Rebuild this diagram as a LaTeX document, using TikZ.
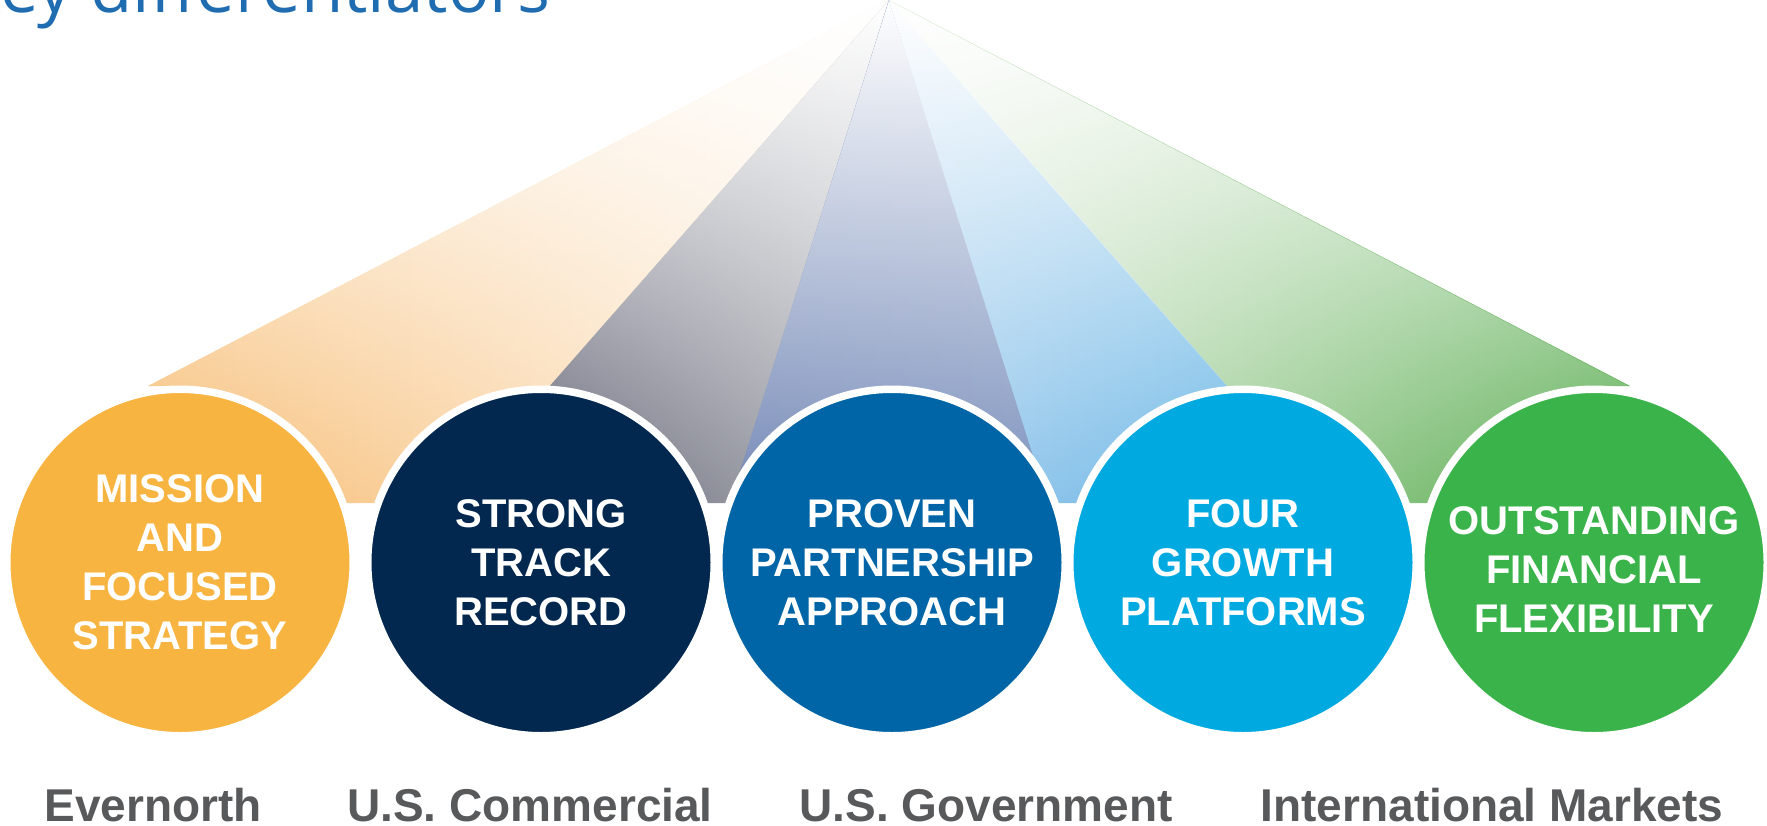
\documentclass[tikz,border=0pt]{standalone}
\usepackage{fontspec}
\setmainfont{Liberation Sans}
\newfontfamily\titlefont{Open Sans}
\usetikzlibrary{fadings}

% disc colours
\definecolor{discOrange}{HTML}{F8B440}
\definecolor{discNavy}{HTML}{02284F}
\definecolor{discBlue}{HTML}{0065A6}
\definecolor{discSky}{HTML}{00A9E0}
\definecolor{discGreen}{HTML}{3AB44A}
% beam colours (left / right ends of each beam)
\definecolor{beamOrangeL}{HTML}{F7BC72}
\definecolor{beamOrangeR}{HTML}{FEF3E6}
\definecolor{beamGrayL}{HTML}{525468}
\definecolor{beamGrayR}{HTML}{B3B5BA}
\definecolor{beamNavyL}{HTML}{7589B7}
\definecolor{beamNavyR}{HTML}{7E93BE}
\definecolor{beamSkyL}{HTML}{A4CDEE}
\definecolor{beamSkyR}{HTML}{5FB3E4}
\definecolor{beamGreenL}{HTML}{E0EDDA}
\definecolor{beamGreenR}{HTML}{5AAD51}
\definecolor{titleblue}{HTML}{1F6CB0}
\definecolor{labelgray}{HTML}{58595B}

% white wash that is solid at the apex and gone near the discs
\tikzfading[name=washtop, top color=transparent!0, bottom color=transparent!100]

\begin{document}
\begin{tikzpicture}[x=1pt,y=-1pt,
  wash/.style={fill=white, path fading=washtop},
  disc/.style={circle, draw=white, line width=7.5pt, minimum size=346.5pt, inner sep=0pt},
  disctext/.style={text=white, align=center, inner sep=0pt,
    font=\fontsize{40}{49}\selectfont\bfseries},
  seglabel/.style={text=labelgray, anchor=base, inner sep=0pt,
    font=\fontsize{46}{52}\selectfont\bfseries}]
\useasboundingbox (0,0) rectangle (1767,825);

% heading, partly beyond the top left edge
\node[anchor=base east, inner sep=0pt, text=titleblue,
  font=\titlefont\fontsize{69}{76}\selectfont] (title) at (551,12) {Key differentiators};

% fan of beams spreading from one apex
\coordinate (apex) at (889,0);
\coordinate (oL) at (148,386);
\coordinate (oC) at (180,386);
\coordinate (oB) at (180,503);
\coordinate (gB) at (1594,503);
\coordinate (gC) at (1594,386);
\coordinate (gR) at (1630,386);

\shade[left color=beamOrangeL, right color=beamOrangeR]
  (apex) -- (oL) -- (oC) -- (oB) -- (451,503) -- cycle;
\fill[wash] (apex) -- (oL) -- (oC) -- (oB) -- (451,503) -- cycle;

\shade[left color=beamGrayL, right color=beamGrayR]
  (apex) -- (447,503) -- (734,503) -- cycle;
\fill[wash] (apex) -- (447,503) -- (734,503) -- cycle;

\shade[left color=beamNavyL, right color=beamNavyR]
  (apex) -- (730,503) -- (1052,503) -- cycle;
\fill[wash] (apex) -- (730,503) -- (1052,503) -- cycle;

\shade[left color=beamSkyL, right color=beamSkyR]
  (apex) -- (1048,503) -- (1334,503) -- cycle;
\fill[wash] (apex) -- (1048,503) -- (1334,503) -- cycle;

\shade[left color=beamGreenL, right color=beamGreenR]
  (apex) -- (1330,503) -- (gB) -- (gC) -- (gR) -- cycle;
\fill[wash] (apex) -- (1330,503) -- (gB) -- (gC) -- (gR) -- cycle;

% discs with white rims
\node[disc, fill=discOrange] (d1) at (180,562.5) {};
\node[disc, fill=discNavy]   (d2) at (541,562.5) {};
\node[disc, fill=discBlue]   (d3) at (892,562.5) {};
\node[disc, fill=discSky]    (d4) at (1243,562.5) {};
\node[disc, fill=discGreen]  (d5) at (1594,562.5) {};

\node[disctext] (t1) at (d1.center) {MISSION\\AND\\FOCUSED\\STRATEGY};
\node[disctext] (t2) at (d2.center) {STRONG\\TRACK\\RECORD};
\node[disctext] (t3) at (d3.center) {PROVEN\\PARTNERSHIP\\APPROACH};
\node[disctext] (t4) at (d4.center) {FOUR\\GROWTH\\PLATFORMS};
\node[disctext, yshift=-7pt] (t5) at (d5.center) {OUTSTANDING\\FINANCIAL\\FLEXIBILITY};

% segment names along the bottom
\node[seglabel] (s1) at (153,821) {Evernorth};
\node[seglabel] (s2) at (530,821) {U.S. Commercial};
\node[seglabel] (s3) at (986,821) {U.S. Government};
\node[seglabel] (s4) at (1492,821) {International Markets};
\end{tikzpicture}
\end{document}
